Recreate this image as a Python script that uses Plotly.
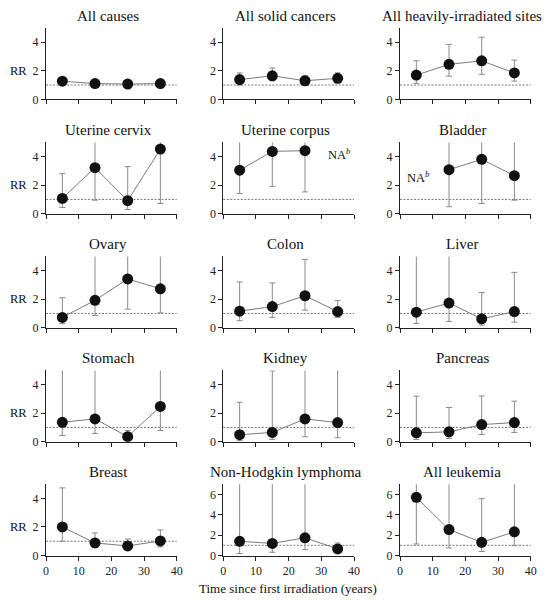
import plotly.graph_objects as go

# ---------------- data ----------------
times = [5, 15, 25, 35]
x_ticks = [0, 10, 20, 30, 40]

panel_titles = [
    "All causes", "All solid cancers", "All heavily-irradiated sites",
    "Uterine cervix", "Uterine corpus", "Bladder",
    "Ovary", "Colon", "Liver",
    "Stomach", "Kidney", "Pancreas",
    "Breast", "Non-Hodgkin lymphoma", "All leukemia",
]

rr_values = [
    [1.27, 1.10, 1.07, 1.10],
    [1.38, 1.65, 1.30, 1.47],
    [1.70, 2.45, 2.70, 1.85],
    [1.07, 3.23, 0.91, 4.53],
    [3.05, 4.37, 4.42, None],
    [None, 3.09, 3.81, 2.67],
    [0.72, 1.92, 3.42, 2.73],
    [1.16, 1.48, 2.24, 1.13],
    [1.09, 1.73, 0.62, 1.13],
    [1.36, 1.60, 0.35, 2.47],
    [0.49, 0.65, 1.60, 1.34],
    [0.62, 0.69, 1.20, 1.34],
    [2.00, 0.88, 0.67, 1.02],
    [1.39, 1.19, 1.74, 0.65],
    [5.71, 2.55, 1.29, 2.32],
]

ci_lower = [
    [1.20, 1.05, 1.01, 1.04],
    [1.00, 1.30, 1.00, 1.15],
    [1.12, 1.62, 1.75, 1.28],
    [0.44, 0.95, 0.30, 0.72],
    [1.42, 1.91, 1.53, None],
    [None, 0.49, 0.72, 0.95],
    [0.28, 0.86, 1.30, 1.04],
    [0.49, 0.72, 1.23, 0.72],
    [0.30, 0.44, 0.18, 0.39],
    [0.44, 0.58, 0.08, 0.79],
    [0.07, 0.16, 0.35, 0.28],
    [0.16, 0.23, 0.51, 0.65],
    [1.00, 0.56, 0.42, 0.60],
    [0.19, 0.32, 0.58, 0.30],
    [1.13, 0.74, 0.39, 0.97],
]

ci_upper = [
    [1.34, 1.15, 1.13, 1.17],
    [1.85, 2.20, 1.65, 1.85],
    [2.70, 3.85, 4.35, 2.75],
    [2.81, 8.00, 3.30, 8.00],
    [8.00, 8.00, 8.00, None],
    [None, 8.00, 8.00, 8.00],
    [2.10, 8.00, 8.00, 8.00],
    [3.21, 3.14, 4.79, 1.90],
    [8.00, 8.00, 2.47, 3.88],
    [8.00, 8.00, 0.79, 8.00],
    [2.77, 4.97, 8.00, 8.00],
    [3.19, 2.40, 3.21, 2.84],
    [4.74, 1.58, 1.16, 1.79],
    [10.0, 10.0, 10.0, 1.23],
    [10.0, 10.0, 5.58, 10.0],
]

y_max = [5] * 13 + [7, 7]
na_labels = {4: (35.5, 4.22), 5: (5.8, 2.59)}   # panel index -> (time, RR) of "NA" note

# ---------------- layout geometry (pixels) ----------------
W, H = 548, 600
col_left = [46, 223.3, 400]
plot_w = 130.7
row_bottom = [99.3, 213.7, 327.7, 441.7, 555.5]
plot_h = 71.3

FONT = "Liberation Serif"
fig = go.Figure()
layout = dict(
    width=W, height=H, margin=dict(l=0, r=0, t=0, b=0),
    paper_bgcolor="white", plot_bgcolor="white", showlegend=False,
    font=dict(family=FONT, color="#222"),
)
annotations = []
shapes = []

for i, title in enumerate(panel_titles):
    r, c = divmod(i, 3)
    n = i + 1
    xa = "x" if n == 1 else f"x{n}"
    ya = "y" if n == 1 else f"y{n}"
    xs, ys, em, ep = [], [], [], []
    for t, v, lo, hi in zip(times, rr_values[i], ci_lower[i], ci_upper[i]):
        if v is None:
            continue
        xs.append(t); ys.append(v); em.append(v - lo); ep.append(hi - v)
    fig.add_trace(go.Scatter(
        x=xs, y=ys, xaxis=xa, yaxis=ya, mode="lines+markers",
        line=dict(color="#7a7a7a", width=1),
        marker=dict(color="#111", size=11),
        error_y=dict(type="data", symmetric=False, array=ep, arrayminus=em,
                     color="#8a8a8a", thickness=1, width=3),
    ))
    x0 = col_left[c] / W
    x1 = (col_left[c] + plot_w) / W
    yb = 1 - row_bottom[r] / H
    yt = 1 - (row_bottom[r] - plot_h) / H
    last_row = (r == 4)
    layout["xaxis" + ("" if n == 1 else str(n))] = dict(
        domain=[x0, x1], anchor=ya, range=[0, 40], tickvals=x_ticks,
        showticklabels=last_row, showline=True, linecolor="#222", linewidth=1,
        ticks="outside", ticklen=4, tickcolor="#222", showgrid=False, zeroline=False,
        tickfont=dict(size=12, color="#222", family=FONT), automargin=False,
    )
    layout["yaxis" + ("" if n == 1 else str(n))] = dict(
        domain=[yb, yt], anchor=xa, range=[0, y_max[i]],
        tickvals=list(range(0, y_max[i], 2)),
        showline=True, linecolor="#222", linewidth=1,
        ticks="outside", ticklen=4, tickcolor="#222", showgrid=False, zeroline=False,
        tickfont=dict(size=12, color="#222", family=FONT), automargin=False,
    )
    shapes.append(dict(type="line", xref=f"{xa} domain", yref=ya, x0=0, x1=1, y0=1, y1=1,
                       line=dict(color="#777", width=1, dash="2px,1.5px"), layer="below"))
    annotations.append(dict(
        text=title, xref="paper", yref="paper",
        x=(col_left[c] + plot_w / 2 - 3) / W, y=1 - (row_bottom[r] - plot_h - 12) / H,
        showarrow=False, xanchor="center", yanchor="middle",
        font=dict(size=15, color="#111", family=FONT),
    ))
    if c == 0:
        annotations.append(dict(
            text="RR", xref="paper", yref=ya, x=18.5 / W, y=2,
            showarrow=False, xanchor="center", yanchor="middle",
            font=dict(size=12.5, color="#111", family=FONT),
        ))
    if i in na_labels:
        tx, ty = na_labels[i]
        annotations.append(dict(
            text="NA<sup><i>b</i></sup>", xref=xa, yref=ya, x=tx, y=ty,
            showarrow=False, xanchor="center", yanchor="middle",
            font=dict(size=12.5, color="#111", family=FONT),
        ))

annotations.append(dict(
    text="Time since first irradiation (years)", xref="paper", yref="paper",
    x=287.5 / W, y=1 - 588 / H, showarrow=False, xanchor="center", yanchor="middle",
    font=dict(size=13, color="#111", family=FONT),
))

layout["annotations"] = annotations
layout["shapes"] = shapes
fig.update_layout(**layout)
fig.write_html("out.html", config={"displayModeBar": False},
               post_script="document.body.style.margin='0';document.body.style.overflow='hidden';")
